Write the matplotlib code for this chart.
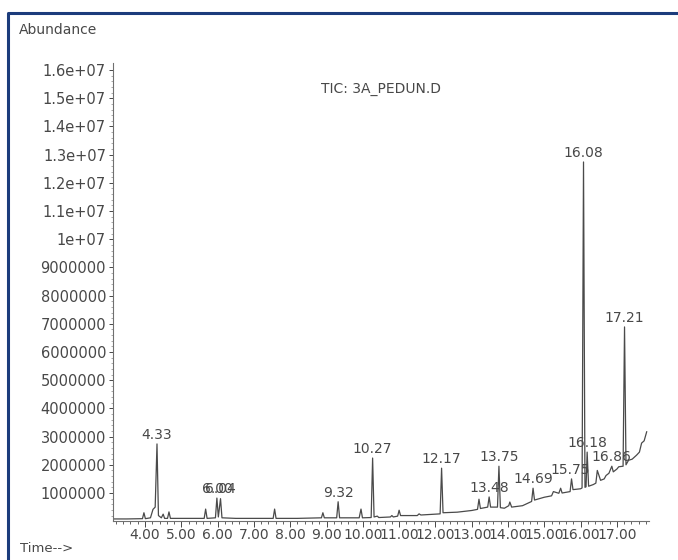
#!/usr/bin/env python
"""
Chromatogram (TIC: 3A_PEDUN.D) redrawn with matplotlib
"""

import matplotlib
matplotlib.use("Agg")
import matplotlib.pyplot as plt
from matplotlib.lines import Line2D
from matplotlib.ticker import FixedLocator, MultipleLocator

# trace: retention time (min) and abundance (x 1e6)
TRACE_T = [3.12, 3.5, 3.93, 3.97, 4.01, 4.15, 4.22, 4.28, 4.33, 4.37, 4.45,
           4.5, 4.54, 4.62, 4.66, 4.7, 5.0, 5.3, 5.63, 5.67, 5.71, 5.94,
           5.98, 6.02, 6.08, 6.12, 6.5, 7.0, 7.53, 7.57, 7.61, 8.2, 8.86,
           8.9, 8.94, 9.28, 9.32, 9.36, 9.9, 9.95, 9.99, 10.23, 10.27, 10.31,
           10.4, 10.44, 10.76, 10.8, 10.84, 10.96, 11.0, 11.04, 11.5, 11.55,
           11.6, 12.0, 12.13, 12.17, 12.21, 12.6, 13.0, 13.16, 13.2, 13.24,
           13.44, 13.48, 13.52, 13.71, 13.75, 13.79, 13.9, 14.02, 14.05, 14.1,
           14.4, 14.65, 14.69, 14.73, 15.0, 15.2, 15.25, 15.4, 15.45, 15.49,
           15.71, 15.75, 15.79, 16.0, 16.04, 16.08, 16.12, 16.15, 16.18, 16.22,
           16.35, 16.42, 16.46, 16.55, 16.65, 16.7, 16.78, 16.86, 16.9, 17.0,
           17.05, 17.17, 17.21, 17.25, 17.32, 17.42, 17.54, 17.62, 17.68,
           17.75, 17.82]
TRACE_ABUND = [0.08, 0.08, 0.09, 0.30, 0.09, 0.12, 0.42, 0.5, 2.74, 0.2, 0.12,
               0.25, 0.1, 0.1, 0.33, 0.1, 0.1, 0.1, 0.1, 0.43, 0.1, 0.12,
               0.82, 0.15, 0.8, 0.12, 0.1, 0.1, 0.1, 0.43, 0.1, 0.1, 0.12,
               0.3, 0.12, 0.12, 0.69, 0.12, 0.12, 0.43, 0.12, 0.13, 2.24, 0.15,
               0.18, 0.13, 0.15, 0.2, 0.15, 0.18, 0.39, 0.2, 0.2, 0.26,
               0.22, 0.25, 0.26, 1.88, 0.3, 0.32, 0.38, 0.42, 0.78, 0.45,
               0.5, 0.86, 0.5, 0.5, 1.95, 0.48, 0.46, 0.55, 0.68, 0.5,
               0.55, 0.7, 1.17, 0.75, 0.85, 0.9, 1.05, 0.99, 1.17, 1.0,
               1.05, 1.5, 1.12, 1.15, 1.18, 12.74, 1.2, 1.22, 2.45, 1.24,
               1.3, 1.35, 1.8, 1.45, 1.5, 1.62, 1.7, 1.95, 1.75, 1.85,
               1.93, 1.95, 6.89, 2.0, 2.16, 2.2, 2.34, 2.45, 2.77,
               2.85, 3.17]

# labelled peaks (label text, time, abundance x 1e6)
PEAK_LABELS = ["4.33", "6.00", "6.04", "9.32", "10.27", "12.17", "13.48",
               "13.75", "14.69", "15.75", "16.08", "16.18", "16.86", "17.21"]
PEAK_TIMES = [4.33, 5.98, 6.08, 9.32, 10.27, 12.17, 13.48,
              13.75, 14.69, 15.72, 16.08, 16.2, 16.86, 17.21]
PEAK_HEIGHTS = [2.74, 0.82, 0.82, 0.69, 2.24, 1.88, 0.86,
                1.95, 1.17, 1.5, 12.74, 2.45, 1.95, 6.89]

YTICKS = [1e6, 2e6, 3e6, 4e6, 5e6, 6e6, 7e6, 8e6, 9e6,
          1e7, 1.1e7, 1.2e7, 1.3e7, 1.4e7, 1.5e7, 1.6e7]
YTICK_LABELS = ["1000000", "2000000", "3000000", "4000000", "5000000",
                "6000000", "7000000", "8000000", "9000000", "1e+07",
                "1.1e+07", "1.2e+07", "1.3e+07", "1.4e+07", "1.5e+07",
                "1.6e+07"]
XTICKS = [4, 5, 6, 7, 8, 9, 10, 11, 12, 13, 14, 15, 16, 17]

TEXT_COLOR = "#484848"
LINE_COLOR = "#4a4a4a"
FRAME_COLOR = "#1c3c7c"

plt.rcParams["font.family"] = ["DejaVu Sans"]

fig = plt.figure(figsize=(6.78, 5.6), dpi=100)
ax = fig.add_axes([113 / 678, 1 - 521.2 / 560, 536 / 678, 458.2 / 560])

# the trace
ax.plot(TRACE_T, [v * 1e6 for v in TRACE_ABUND], color=LINE_COLOR, lw=0.9)

# peak labels
for lab, t, h in zip(PEAK_LABELS, PEAK_TIMES, PEAK_HEIGHTS):
    ax.annotate(lab, (t, h * 1e6), xytext=(0, 1.5), textcoords="offset points",
                ha="center", va="bottom", fontsize=10, color=TEXT_COLOR)

ax.set_xlim(3.118, 17.884)
ax.set_ylim(0, 16.25e6)

ax.set_xticks(XTICKS)
ax.set_xticklabels([f"{t:.2f}" for t in XTICKS])
ax.xaxis.set_minor_locator(MultipleLocator(0.2))
ax.set_yticks(YTICKS)
ax.set_yticklabels(YTICK_LABELS)
ax.yaxis.set_minor_locator(FixedLocator([i * 2e5 for i in range(1, 81)]))

ax.tick_params(axis="x", which="major", length=4, width=0.7, pad=1,
               labelsize=10, colors=TEXT_COLOR)
ax.tick_params(axis="x", which="minor", length=2.5, width=0.6,
               colors=TEXT_COLOR)
ax.tick_params(axis="y", which="major", length=3, width=0.7, pad=2,
               labelsize=10.5, colors=TEXT_COLOR)
ax.tick_params(axis="y", which="minor", length=1.2, width=0.5,
               colors="#888888")

for side in ["top", "right"]:
    ax.spines[side].set_visible(False)
for side in ["left", "bottom"]:
    ax.spines[side].set_color("#707070")
    ax.spines[side].set_linewidth(0.8)

# texts around the plot
fig.text(19 / 678, 1 - 29.5 / 560, "Abundance", ha="left", va="center",
         fontsize=10, color=TEXT_COLOR)
fig.text(381 / 678, 1 - 89 / 560, "TIC: 3A_PEDUN.D", ha="center",
         va="center", fontsize=10, color=TEXT_COLOR)
fig.text(20 / 678, 1 - 549 / 560, "Time-->", ha="left", va="center",
         fontsize=9.5, color=TEXT_COLOR)

# blue frame round the picture (left and top edges)
fig.add_artist(Line2D([8 / 678, 8 / 678, 1.0], [0.0, 1 - 13 / 560, 1 - 13 / 560],
                      transform=fig.transFigure, color=FRAME_COLOR, lw=2.2))

fig.savefig("out.png", dpi=100, facecolor="white")
